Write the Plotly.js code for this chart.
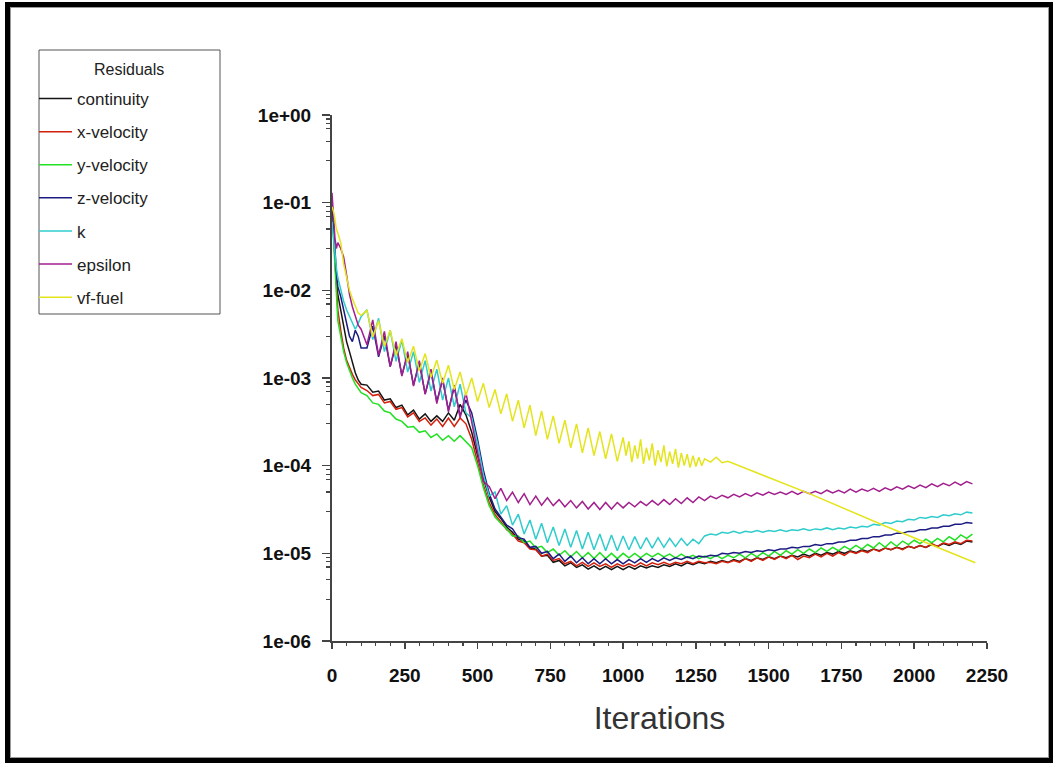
<!DOCTYPE html>
<html>
<head>
<meta charset="utf-8">
<script src="https://cdn.plot.ly/plotly-3.0.1.min.js"></script>
<style>
  html, body { margin:0; padding:0; background:#fff; }
  #frame { position:absolute; left:5px; top:2px; width:1048px; height:761px; box-sizing:border-box;
           border:5px solid #000; border-right-width:4px; box-shadow: inset 0 0 0 1px #9a9a9a; }
  #chart { position:absolute; left:0; top:0; width:1054px; height:763px; }
</style>
</head>
<body>
<div id="frame"></div>
<div id="chart"></div>
<script>
// ---------- DATA ----------
const seriesNames = ["continuity","x-velocity","y-velocity","z-velocity","k","epsilon","vf-fuel"];
const legendTitle = "Residuals";

// shared iteration grid for the first six residuals
const iterations = [0,5,10,15,20,30,40,50,60,70,80,90,100,
  120,140,160,180,200, 220,240,260,280,300, 320,340,360,380,400, 420,440,460,480,500,
  520,540,560,580,600, 620,640,660,680,700, 720,740,760,780,800, 820,840,860,880,900,
  920,940,960,980,1000, 1020,1040,1060,1080,1100, 1120,1140,1160,1180,1200, 1220,1240,1260,1280,1300,
  1320,1340,1360,1380,1400, 1420,1440,1460,1480,1500, 1520,1540,1560,1580,1600, 1620,1640,1660,1680,1700,
  1720,1740,1760,1780,1800, 1820,1840,1860,1880,1900, 1920,1940,1960,1980,2000, 2020,2040,2060,2080,2100,
  2120,2140,2160,2180,2200];

const continuity = [1.0e-1,5.0e-2,2.0e-2,1.2e-2,9.0e-3,6.0e-3,4.0e-3,2.6e-3,2.0e-3,1.5e-3,1.15e-3,9.5e-4,8.5e-4,
  8.3e-4,6.9e-4,7.1e-4,5.6e-4,5.8e-4, 4.6e-4,4.9e-4,3.8e-4,4.3e-4,3.4e-4, 3.9e-4,3.2e-4,3.7e-4,3.2e-4,4.0e-4, 3.3e-4,5.0e-4,3.8e-4,2.4e-4,1.3e-4,
  7.1e-5,4.4e-5,3.0e-5,2.5e-5,2.0e-5, 1.74e-5,1.45e-5,1.38e-5,1.15e-5,1.12e-5, 9.3e-6,9.5e-6,7.9e-6,8.3e-6,7.2e-6, 7.8e-6,6.9e-6,7.4e-6,6.6e-6,7.2e-6,
  6.5e-6,7.1e-6,6.5e-6,7.1e-6,6.5e-6, 7.1e-6,6.6e-6,7.2e-6,6.8e-6,7.2e-6, 6.9e-6,7.4e-6,7.1e-6,7.6e-6,7.2e-6, 7.8e-6,7.4e-6,7.9e-6,7.6e-6,8.1e-6,
  7.8e-6,8.3e-6,7.9e-6,8.5e-6,8.1e-6, 8.7e-6,8.3e-6,8.9e-6,8.5e-6,9.1e-6, 8.7e-6,9.3e-6,8.9e-6,9.5e-6,9.1e-6, 9.8e-6,9.3e-6,1.0e-5,9.5e-6,1.02e-5,
  9.8e-6,1.05e-5,1.0e-5,1.07e-5,1.02e-5, 1.1e-5,1.05e-5,1.12e-5,1.07e-5,1.15e-5, 1.1e-5,1.17e-5,1.12e-5,1.2e-5,1.15e-5, 1.23e-5,1.17e-5,1.26e-5,1.2e-5,1.29e-5,
  1.23e-5,1.32e-5,1.26e-5,1.38e-5,1.35e-5];

const xVelocity = [9.0e-2,4.5e-2,2.0e-2,1.0e-2,6.0e-3,3.5e-3,2.2e-3,1.6e-3,1.3e-3,1.1e-3,9.5e-4,8.5e-4,7.8e-4,
  7.2e-4,6.3e-4,6.5e-4,5.2e-4,5.4e-4, 4.4e-4,4.6e-4,3.6e-4,4.0e-4,3.2e-4, 3.5e-4,2.9e-4,3.4e-4,2.8e-4,3.5e-4, 2.8e-4,3.5e-4,3.0e-4,2.0e-4,1.12e-4,
  6.0e-5,3.8e-5,2.75e-5,2.3e-5,1.86e-5, 1.66e-5,1.38e-5,1.32e-5,1.12e-5,1.1e-5, 9.3e-6,9.8e-6,8.3e-6,8.7e-6,7.6e-6, 8.1e-6,7.2e-6,7.9e-6,7.1e-6,7.8e-6,
  7.1e-6,7.6e-6,6.9e-6,7.6e-6,7.1e-6, 7.6e-6,7.1e-6,7.8e-6,7.2e-6,7.8e-6, 7.4e-6,7.9e-6,7.4e-6,7.9e-6,7.6e-6, 8.1e-6,7.6e-6,8.1e-6,7.8e-6,7.9e-6,
  7.6e-6,8.1e-6,7.8e-6,8.3e-6,7.9e-6, 8.7e-6,8.1e-6,8.9e-6,8.3e-6,9.1e-6, 8.5e-6,9.3e-6,8.7e-6,9.5e-6,8.5e-6, 9.3e-6,8.9e-6,9.8e-6,9.1e-6,1.0e-5,
  9.3e-6,1.02e-5,9.5e-6,1.05e-5,1.0e-5, 1.07e-5,1.02e-5,1.12e-5,1.05e-5,1.15e-5, 1.1e-5,1.17e-5,1.1e-5,1.2e-5,1.15e-5, 1.23e-5,1.17e-5,1.29e-5,1.2e-5,1.32e-5,
  1.26e-5,1.35e-5,1.29e-5,1.41e-5,1.38e-5];

const yVelocity = [8.5e-2,4.0e-2,1.6e-2,8.0e-3,4.5e-3,3.0e-3,2.0e-3,1.5e-3,1.2e-3,1.0e-3,8.5e-4,7.5e-4,6.8e-4,
  6.3e-4,5.2e-4,5.0e-4,4.2e-4,4.0e-4, 3.4e-4,3.2e-4,2.75e-4,2.8e-4,2.4e-4, 2.5e-4,2.1e-4,2.3e-4,1.95e-4,2.2e-4, 1.9e-4,2.2e-4,1.9e-4,1.6e-4,1.0e-4,
  5.6e-5,3.5e-5,2.6e-5,2.2e-5,1.9e-5, 1.58e-5,1.58e-5,1.32e-5,1.38e-5,1.15e-5, 1.2e-5,1.02e-5,1.12e-5,9.5e-6,1.07e-5, 9.1e-6,1.05e-5,8.9e-6,1.02e-5,8.7e-6,
  1.02e-5,8.7e-6,1.0e-5,8.7e-6,1.0e-5, 8.9e-6,1.0e-5,8.9e-6,1.0e-5,9.1e-6, 1.0e-5,9.1e-6,9.8e-6,8.9e-6,9.8e-6, 8.9e-6,9.5e-6,8.7e-6,9.3e-6,8.7e-6,
  9.5e-6,8.7e-6,9.5e-6,8.9e-6,9.8e-6, 8.9e-6,1.0e-5,9.1e-6,1.02e-5,9.3e-6, 1.05e-5,9.5e-6,1.07e-5,9.8e-6,1.1e-5, 1.0e-5,1.12e-5,1.02e-5,1.15e-5,1.05e-5,
  1.17e-5,1.07e-5,1.2e-5,1.1e-5,1.23e-5, 1.12e-5,1.26e-5,1.15e-5,1.32e-5,1.17e-5, 1.35e-5,1.2e-5,1.38e-5,1.26e-5,1.41e-5, 1.29e-5,1.45e-5,1.32e-5,1.48e-5,1.35e-5,
  1.55e-5,1.41e-5,1.62e-5,1.48e-5,1.66e-5];

const zVelocity = [1.0e-1,6.0e-2,3.0e-2,1.6e-2,1.1e-2,8.5e-3,6.0e-3,4.0e-3,3.0e-3,2.6e-3,3.5e-3,3.0e-3,2.2e-3,
  2.2e-3,3.9e-3,1.74e-3,3.0e-3,1.35e-3, 2.4e-3,1.07e-3,1.86e-3,8.3e-4,1.48e-3, 6.6e-4,1.17e-3,5.4e-4,9.5e-4,4.3e-4, 7.9e-4,3.7e-4,5.6e-4,4.0e-4,2.0e-4,
  8.9e-5,4.8e-5,3.2e-5,2.6e-5,2.1e-5, 1.9e-5,1.51e-5,1.45e-5,1.17e-5,1.2e-5, 1.0e-5,1.05e-5,8.7e-6,9.8e-6,8.1e-6, 9.3e-6,7.8e-6,8.9e-6,7.6e-6,8.7e-6,
  7.6e-6,8.7e-6,7.6e-6,8.5e-6,7.6e-6, 8.5e-6,7.8e-6,8.7e-6,7.9e-6,8.7e-6, 8.1e-6,8.9e-6,8.3e-6,8.9e-6,8.5e-6, 9.1e-6,8.7e-6,9.3e-6,9.1e-6,9.5e-6,
  9.3e-6,1.0e-5,9.8e-6,1.02e-5,1.0e-5, 1.05e-5,1.02e-5,1.07e-5,1.05e-5,1.1e-5, 1.07e-5,1.12e-5,1.12e-5,1.17e-5,1.15e-5, 1.2e-5,1.2e-5,1.26e-5,1.23e-5,1.29e-5,
  1.29e-5,1.35e-5,1.35e-5,1.41e-5,1.41e-5, 1.48e-5,1.48e-5,1.55e-5,1.55e-5,1.62e-5, 1.62e-5,1.7e-5,1.7e-5,1.78e-5,1.78e-5, 1.86e-5,1.86e-5,1.95e-5,1.95e-5,2.04e-5,
  2.04e-5,2.14e-5,2.14e-5,2.24e-5,2.2e-5];

const kResidual = [6.0e-2,4.0e-2,2.5e-2,1.8e-2,1.4e-2,1.0e-2,7.5e-3,6.0e-3,5.0e-3,4.2e-3,3.6e-3,4.2e-3,5.0e-3,
  6.0e-3,2.75e-3,4.8e-3,2.0e-3,3.5e-3, 1.55e-3,2.7e-3,1.17e-3,2.0e-3,8.9e-4, 1.58e-3,7.1e-4,1.26e-3,5.6e-4,1.0e-3, 4.7e-4,8.5e-4,4.0e-4,3.5e-4,1.78e-4,
  7.9e-5,4.5e-5,5.0e-5,2.8e-5,3.5e-5, 2.1e-5,2.8e-5,1.66e-5,2.4e-5,1.45e-5, 2.2e-5,1.32e-5,2.0e-5,1.23e-5,1.9e-5, 1.17e-5,1.82e-5,1.12e-5,1.74e-5,1.1e-5,
  1.66e-5,1.07e-5,1.62e-5,1.07e-5,1.58e-5, 1.1e-5,1.55e-5,1.12e-5,1.51e-5,1.15e-5, 1.51e-5,1.17e-5,1.48e-5,1.2e-5,1.48e-5, 1.23e-5,1.45e-5,1.29e-5,1.58e-5,1.66e-5,
  1.62e-5,1.74e-5,1.7e-5,1.78e-5,1.7e-5, 1.78e-5,1.74e-5,1.82e-5,1.74e-5,1.82e-5, 1.78e-5,1.86e-5,1.78e-5,1.86e-5,1.82e-5, 1.9e-5,1.82e-5,1.9e-5,1.86e-5,1.95e-5,
  1.86e-5,1.95e-5,1.9e-5,2.0e-5,1.95e-5, 2.04e-5,2.0e-5,2.14e-5,2.09e-5,2.24e-5, 2.19e-5,2.34e-5,2.29e-5,2.45e-5,2.4e-5, 2.57e-5,2.51e-5,2.63e-5,2.57e-5,2.75e-5,
  2.69e-5,2.82e-5,2.75e-5,2.95e-5,2.88e-5];

const epsilon = [1.3e-1,7.0e-2,4.0e-2,3.0e-2,3.5e-2,3.0e-2,2.4e-2,1.5e-2,9.0e-3,6.5e-3,5.0e-3,4.0e-3,3.6e-3,
  2.4e-3,4.6e-3,1.82e-3,3.4e-3,1.35e-3, 2.6e-3,1.05e-3,2.0e-3,8.1e-4,1.58e-3, 6.5e-4,1.26e-3,5.1e-4,1.0e-3,4.1e-4, 8.3e-4,3.5e-4,6.8e-4,3.2e-4,1.41e-4,
  6.6e-5,5.8e-5,4.2e-5,5.5e-5,4.0e-5, 5.0e-5,3.8e-5,4.8e-5,3.6e-5,4.5e-5, 3.55e-5,4.3e-5,3.5e-5,4.1e-5,3.4e-5, 4.0e-5,3.3e-5,3.9e-5,3.2e-5,3.8e-5,
  3.16e-5,3.8e-5,3.2e-5,3.8e-5,3.3e-5, 3.8e-5,3.4e-5,3.9e-5,3.5e-5,4.0e-5, 3.55e-5,4.1e-5,3.6e-5,4.2e-5,3.7e-5, 4.3e-5,3.8e-5,4.4e-5,4.0e-5,4.5e-5,
  4.2e-5,4.6e-5,4.3e-5,4.7e-5,4.4e-5, 4.8e-5,4.5e-5,4.9e-5,4.6e-5,5.0e-5, 4.7e-5,5.0e-5,4.7e-5,5.1e-5,4.7e-5, 5.1e-5,4.8e-5,5.1e-5,4.8e-5,5.25e-5,
  4.9e-5,5.25e-5,4.9e-5,5.4e-5,5.0e-5, 5.4e-5,5.1e-5,5.5e-5,5.1e-5,5.6e-5, 5.25e-5,5.75e-5,5.4e-5,5.9e-5,5.5e-5, 6.0e-5,5.6e-5,6.2e-5,5.75e-5,6.3e-5,
  5.9e-5,6.5e-5,6.0e-5,6.6e-5,6.2e-5];

// vf-fuel has its own iteration list (denser where it is noisy, sparse where it is a straight slope)
const fuelIterations = [0,5,10,15,20,30,40,50,60,70,80,90,100,
  120,140,160,180,200,220,240,260,280,300,320,340,360,380,400,420,440,460,480,500,
  520,540,560,580,600,620,640,660,680,700,720,740,760,780,800,820,840,860,880,900,920,940,960,980,
  1000,1010,1020,1030,1040,1050,1060,1070,1080,1090,1100,1110,1120,1130,1140,1150,1160,1170,1180,1190,
  1200,1210,1220,1230,1240,1250,1260,1270,1280,
  1300,1320,1340,1360, 1640,1900,2210];
const vfFuel = [9.0e-2,8.0e-2,6.5e-2,5.0e-2,4.5e-2,3.5e-2,2.0e-2,1.4e-2,1.0e-2,8.0e-3,6.5e-3,5.5e-3,5.2e-3,
  5.9e-3,2.95e-3,4.5e-3,2.3e-3,3.5e-3,1.8e-3,2.8e-3,1.5e-3,2.3e-3,1.2e-3,1.9e-3,1.02e-3,1.6e-3,8.7e-4,1.4e-3,7.4e-4,1.17e-3,6.3e-4,1.0e-3,5.4e-4,
  8.7e-4,4.6e-4,7.4e-4,3.9e-4,6.6e-4,3.2e-4,5.6e-4,2.7e-4,4.9e-4,2.2e-4,4.2e-4,2.0e-4,3.7e-4,1.8e-4,3.3e-4,1.6e-4,3.0e-4,1.4e-4,2.7e-4,1.3e-4,2.45e-4,1.2e-4,2.3e-4,1.12e-4,
  2.1e-4,1.3e-4,1.9e-4,1.1e-4,1.7e-4,1.2e-4,2.0e-4,1.05e-4,1.6e-4,1.15e-4,1.8e-4,1.0e-4,1.5e-4,1.1e-4,1.7e-4,9.8e-5,1.45e-4,1.05e-4,1.55e-4,9.5e-5,
  1.4e-4,1.0e-4,1.35e-4,9.5e-5,1.3e-4,9.8e-5,1.25e-4,1.0e-4,1.2e-4,
  1.1e-4,1.25e-4,1.08e-4,1.12e-4, 4.8e-5,2.05e-5,7.8e-6];

const lineColors = ["#141414","#d2200c","#22e022","#1c1c82","#30cccc","#a2208e","#e4e41c"];

const yTickVals = [1e-6,1e-5,1e-4,1e-3,1e-2,1e-1,1e0];
const yTickText = ["1e-06","1e-05","1e-04","1e-03","1e-02","1e-01","1e+00"];
const xTickVals = [0,250,500,750,1000,1250,1500,1750,2000,2250];
const minorMantissas = [3,5,7,8,9];

// ---------- BUILD ----------
const seriesY = [continuity, xVelocity, yVelocity, zVelocity, kResidual, epsilon, vfFuel];
const traces = seriesNames.map((name, i) => ({
  type: "scatter", mode: "lines", name: name,
  x: i === 6 ? fuelIterations : iterations,
  y: seriesY[i],
  line: { color: lineColors[i], width: 1.5 },
  legendgroup: "g" + i
}));

const minorY = [];
for (let e = -6; e < 0; e++) minorMantissas.forEach(m => minorY.push(m * Math.pow(10, e)));

const W = 1054, H = 763;
// plot area in pixels: x 332..987, y 115..641
const PL = 332, PR = 987, PT = 115, PB = 641;
const px2paperX = p => (p - PL) / (PR - PL);
const px2paperY = p => (PB - p) / (PB - PT);
const FONT = "Arial, Liberation Sans, sans-serif";

const layout = {
  width: W, height: H,
  margin: { l: PL, r: W - PR, t: PT, b: H - PB, pad: 0 },
  paper_bgcolor: "rgba(0,0,0,0)", plot_bgcolor: "rgba(0,0,0,0)",
  showlegend: true,
  legend: {
    xref: "container", yref: "container",
    x: 34 / W, y: 1 - 81 / H, xanchor: "left", yanchor: "top",
    bgcolor: "rgba(0,0,0,0)", borderwidth: 0,
    font: { family: FONT, size: 17, color: "#222" },
    tracegroupgap: 8, itemwidth: 33
  },
  shapes: [{
    type: "rect", xref: "paper", yref: "paper", layer: "above",
    x0: px2paperX(39), x1: px2paperX(220), y0: px2paperY(314), y1: px2paperY(50),
    line: { color: "#555", width: 1 }, fillcolor: "rgba(0,0,0,0)"
  }],
  annotations: [{
    text: legendTitle, xref: "paper", yref: "paper", x: px2paperX(129), y: px2paperY(69),
    xanchor: "center", yanchor: "middle", showarrow: false,
    font: { family: FONT, size: 16, color: "#222" }
  }],
  xaxis: {
    range: [0, 2250], showgrid: false, zeroline: false,
    showline: true, linecolor: "#444", linewidth: 2,
    tickmode: "array", tickvals: xTickVals,
    ticks: "outside", ticklen: 6, tickwidth: 1.5, tickcolor: "#444",
    ticklabelstandoff: 10,
    tickfont: { family: FONT, size: 19, weight: "bold", color: "#111" },
    minor: { ticks: "outside", ticklen: 3, tickwidth: 1.2, dtick: 50, tickcolor: "#444" },
    title: { text: "Iterations", standoff: 22, font: { family: FONT, size: 32, color: "#333" } }
  },
  yaxis: {
    type: "log", range: [-6, 0], showgrid: false, zeroline: false,
    showline: true, linecolor: "#444", linewidth: 2,
    tickmode: "array", tickvals: yTickVals, ticktext: yTickText,
    ticks: "outside", ticklen: 8, tickwidth: 1.5, tickcolor: "#444",
    ticklabelstandoff: 7,
    tickfont: { family: FONT, size: 19, weight: "bold", color: "#111" },
    minor: { ticks: "outside", ticklen: 4, tickwidth: 1.2, tickmode: "array", tickvals: minorY, tickcolor: "#444" }
  }
};

Plotly.newPlot("chart", traces, layout, { displayModeBar: false, staticPlot: true });
</script>
</body>
</html>
